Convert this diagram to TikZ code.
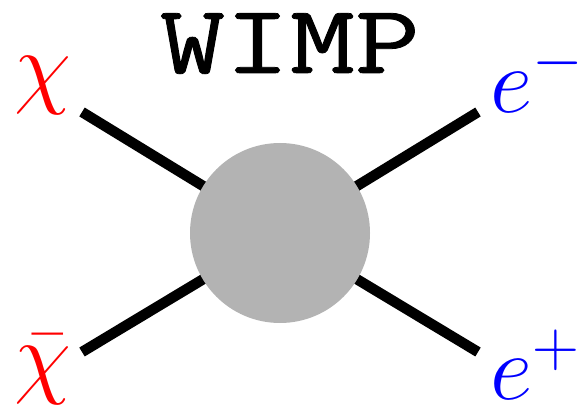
\RequirePackage{fix-cm}
\documentclass[tikz,border=0pt]{standalone}
\usepackage{fontspec}
\usepackage{xcolor}
\usepackage{tikz}
\usetikzlibrary{positioning}
\definecolor{chired}{RGB}{255,0,0}
\definecolor{elecblue}{RGB}{0,0,255}
\definecolor{blobgray}{RGB}{179,179,179}
\newfontfamily\wimpfont[FakeBold=0.8]{Latin Modern Mono}
\tikzset{
  leg/.style={line width=2.6mm, line cap=butt},
  blob/.style={circle, fill=blobgray, minimum size=4.5cm, inner sep=0pt},
  partlabel/.style={inner sep=0pt, font=\fontsize{66}{70}\selectfont}
}
\begin{document}
\begin{tikzpicture}
  \useasboundingbox (0,0) rectangle (14.5,10.275);

  % External legs meet at the vertex, the blob covers them.
  \coordinate (vtx) at (7,4.45);
  \coordinate (chiin)   at (2.05,7.475);
  \coordinate (chibarin) at (2.05,1.475);
  \coordinate (emout)   at (11.95,7.475);
  \coordinate (epout)   at (11.95,1.475);
  \foreach \legend in {chiin,chibarin,emout,epout}
    \draw[leg] (\legend) -- (vtx);
  \node[blob] (blobnode) at (vtx) {};

  % Particle labels.
  \node[partlabel, chired, anchor=base west] (chi) at (0.35,7.85) {$\chi$};
  \node[partlabel, chired, anchor=base west] (chibar) at (0.35,0.62) {$\bar{\chi}$};
  \node[partlabel, elecblue, anchor=base west] (em) at (12.25,7.45) {$e^-$};
  \node[partlabel, elecblue, anchor=base west] (ep) at (12.25,0.28) {$e^+$};

  \node[anchor=base, inner sep=0pt] (title) at (7.25,8.45)
    {\fontsize{69.6}{72}\wimpfont\bfseries\scalebox{1.29}[1]{\wimpfont WIMP}};
\end{tikzpicture}
\end{document}
